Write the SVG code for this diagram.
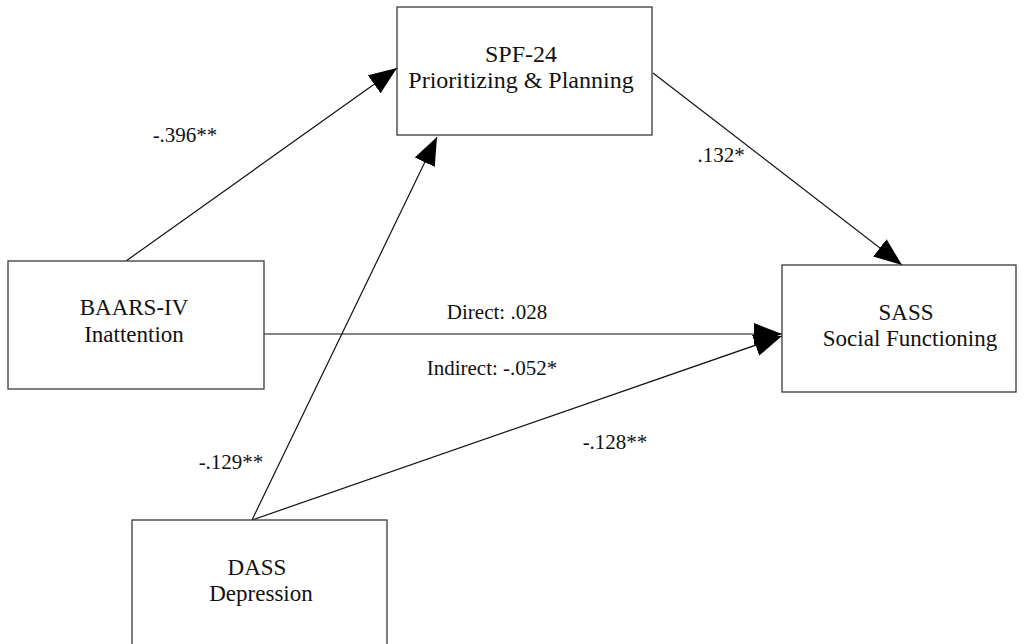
<svg xmlns="http://www.w3.org/2000/svg" width="1024" height="644" viewBox="0 0 1024 644">
<style>
.box{fill:#fff;stroke:#3a3a3a;stroke-width:1.3}
.t{font-family:'Liberation Serif','DejaVu Serif',serif;font-size:23px;fill:#111;text-anchor:middle}
.lbl{font-family:'Liberation Serif','DejaVu Serif',serif;font-size:21px;fill:#111;text-anchor:middle}
.c{stroke:#111;stroke-width:1.2;fill:none;marker-end:url(#ah)}
</style>
<defs>
<marker id="ah" markerUnits="userSpaceOnUse" markerWidth="30" markerHeight="24" refX="28" refY="11" orient="auto">
<path d="M0,0 L28,11 L0,22 Z" fill="#000"/>
</marker>
</defs>
<rect width="1024" height="644" fill="#fff"/>
<g id="connectors">
<line class="c" x1="126" y1="261" x2="397" y2="68"/>
<line class="c" x1="653" y1="73" x2="902" y2="265"/>
<line class="c" x1="264" y1="334" x2="782" y2="334"/>
<line class="c" x1="252" y1="520" x2="437" y2="137"/>
<line class="c" x1="252" y1="520" x2="782" y2="336"/>
</g>
<g id="spf">
<rect class="box" x="397" y="7" width="255" height="128"/>
<text class="t" x="521" y="62" style="font-size:24px">SPF-24</text>
<text class="t" x="521" y="88" style="font-size:24px">Prioritizing &amp; Planning</text>
</g>
<g id="baars">
<rect class="box" x="8" y="261" width="256" height="128"/>
<text class="t" x="134" y="315">BAARS-IV</text>
<text class="t" x="134" y="342">Inattention</text>
</g>
<g id="sass">
<rect class="box" x="782" y="265" width="234" height="127"/>
<text class="t" x="906" y="320">SASS</text>
<text class="t" x="910" y="346">Social Functioning</text>
</g>
<g id="dass">
<rect class="box" x="132" y="520" width="255" height="140"/>
<text class="t" x="257" y="575">DASS</text>
<text class="t" x="261" y="601">Depression</text>
</g>
<g id="labels">
<text class="lbl" x="185" y="142">-.396**</text>
<text class="lbl" x="721" y="162">.132*</text>
<text class="lbl" x="497" y="319">Direct: .028</text>
<text class="lbl" x="492" y="375">Indirect: -.052*</text>
<text class="lbl" x="615" y="449">-.128**</text>
<text class="lbl" x="231" y="469">-.129**</text>
</g>
</svg>
